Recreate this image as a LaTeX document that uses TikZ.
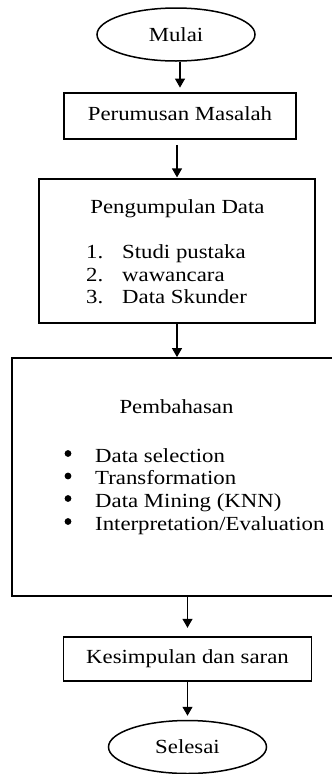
\documentclass[tikz,border=0pt]{standalone}
\usepackage{fontspec}
\setmainfont{Liberation Serif}[FakeStretch=1.14]
\usetikzlibrary{shapes.geometric,arrows.meta}

\tikzset{
  terminal/.style={draw, ellipse, line width=1.5pt, minimum width=158pt, minimum height=53pt, inner sep=0pt},
  proses/.style={draw, rectangle, line width=1.8pt, inner sep=0pt, text height=14pt, text depth=5pt},
  judul/.style={anchor=base, inner sep=0pt},
  isi/.style={anchor=base west, inner sep=0pt},
  panah/.style={-{Triangle[width=10pt,length=9pt]}, line width=1.2pt}
}

\begin{document}
\begin{tikzpicture}[x=1pt, y=-1pt, font=\fontsize{20}{23}\selectfont]
  \useasboundingbox (0,0) rectangle (332,774);
  \clip (0,0) rectangle (332,774);

  \node[terminal] (mulai) at (176, 34.5) {Mulai};
  \node[proses, minimum width=232pt, minimum height=46pt] (rumus) at (180, 116) {Perumusan Masalah};
  \node[proses, minimum width=276pt, minimum height=144pt] (data) at (177, 251.3) {};
  \node[proses, minimum width=334pt, minimum height=238pt] (bahas) at (179, 477) {};
  \node[proses, minimum width=248pt, minimum height=44pt] (simpul) at (187.5, 658.7) {Kesimpulan dan saran};
  \node[terminal] (selesai) at (187.5, 747) {Selesai};

  \node[judul] (kumpul) at (177.5, 213) {Pengumpulan Data};
  \node[isi] (d1) at (86, 258) {\makebox[36pt][l]{1.}Studi pustaka};
  \node[isi] (d2) at (86, 281) {\makebox[36pt][l]{2.}wawancara};
  \node[isi] (d3) at (86, 303.5) {\makebox[36pt][l]{3.}Data Skunder};

  \node[judul] (bahasan) at (176.5, 413) {Pembahasan};
  \node[isi] (b1) at (95, 462) {Data selection};
  \node[isi] (b2) at (95, 484.5) {Transformation};
  \node[isi] (b3) at (95, 507) {Data Mining (KNN)};
  \node[isi] (b4) at (95, 530) {Interpretation/Evaluation};
  \fill (b1.base west) ++(-27,-8.5) circle[radius=3.4pt];
  \fill (b2.base west) ++(-27,-8.5) circle[radius=3.4pt];
  \fill (b3.base west) ++(-27,-8.5) circle[radius=3.4pt];
  \fill (b4.base west) ++(-27,-8.5) circle[radius=3.4pt];

  \draw[panah, shorten >=4.5pt] (mulai.south -| rumus.north) -- (rumus.north);
  \draw[panah, shorten <=5pt, shorten >=1pt] (rumus.south -| data.north) -- (data.north);
  \draw[panah] (data.south) -- (data.south |- bahas.north);
  \draw[panah, shorten >=8pt] (bahas.south -| simpul.north) -- (simpul.north);
  \draw[panah, shorten >=4pt] (simpul.south) -- (selesai.north);

\end{tikzpicture}
\end{document}
